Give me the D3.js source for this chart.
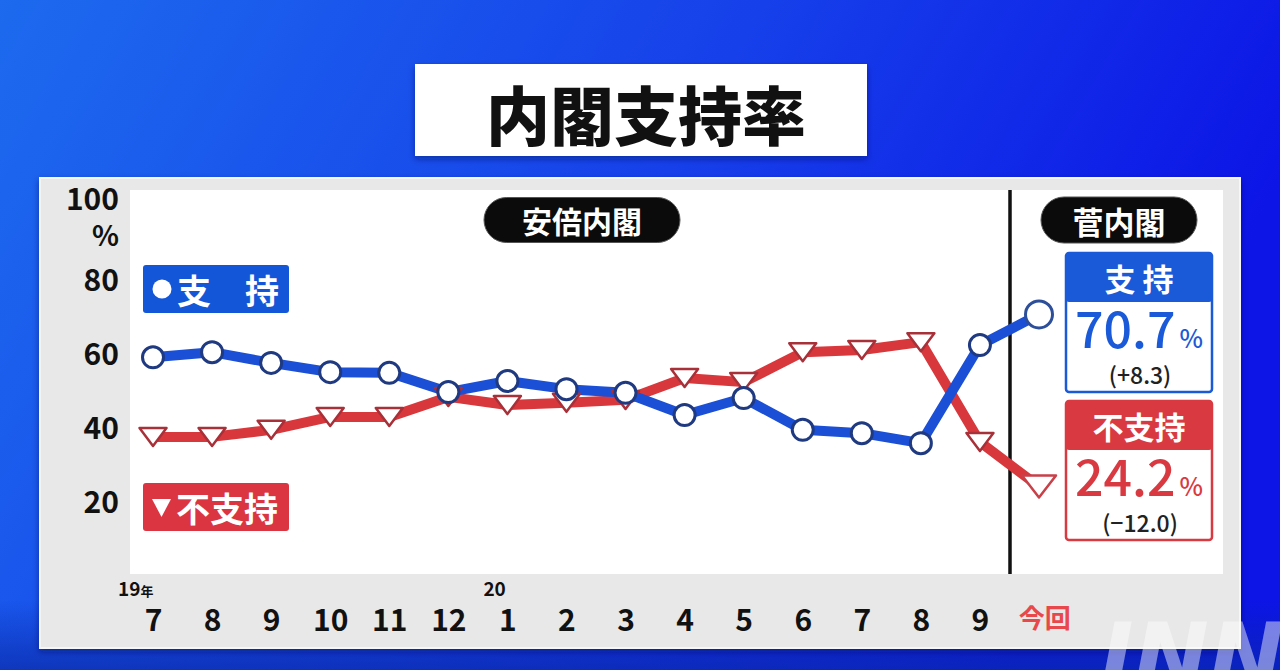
<!DOCTYPE html>
<html><head><meta charset="utf-8">
<script src="https://cdn.jsdelivr.net/npm/d3@7"></script>
<style>body{margin:0;overflow:hidden;background:#1540e0;} svg{display:block;}</style>
</head><body>
<svg id="c" width="1280" height="670"></svg>
<script>
// ---- data ----
const months = ["7","8","9","10","11","12","1","2","3","4","5","6","7","8","9","今回"];
const support = [59.1,60.5,57.6,55.1,54.9,49.7,52.7,50.5,49.5,43.5,48.1,39.5,38.6,35.9,62.4,70.7];
const nonSupport = [37.6,37.6,39.5,43.0,43.0,48.4,46.2,46.8,47.6,53.5,52.4,60.5,61.1,63.2,36.2,24.2];
const yTicks = [20,40,60,80,100];
const yearMarks = [{i:0, year:"19", suffix:"年"}, {i:6, year:"20", suffix:""}];
const cabinets = ["安倍内閣","菅内閣"];
const latest = {support:"70.7", supportDiff:"(+8.3)", non:"24.2", nonDiff:"(−12.0)"};

const FONT = "'Noto Sans CJK JP','Noto Sans',sans-serif";
const BLUE = "#1a4fd6", NAVY = "#1f3a80", RED = "#d8373c", DRED = "#a83038";

const svg = d3.select("#c").style("font-family", FONT);
const defs = svg.append("defs");
const g1 = defs.append("linearGradient").attr("id","bg").attr("x1","0").attr("x2","1").attr("y1","0").attr("y2","0.3");
g1.append("stop").attr("offset","0").attr("stop-color","#1d6aee");
g1.append("stop").attr("offset","0.55").attr("stop-color","#1640ea");
g1.append("stop").attr("offset","1").attr("stop-color","#0c14e6");
svg.append("rect").attr("width",1280).attr("height",670).attr("fill","url(#bg)");
const g2 = defs.append("linearGradient").attr("id","bot").attr("x1","0").attr("x2","0").attr("y1","0").attr("y2","1");
g2.append("stop").attr("offset","0").attr("stop-color","#0a2aa8").attr("stop-opacity",0);
g2.append("stop").attr("offset","1").attr("stop-color","#0a2aa8").attr("stop-opacity",0.7);
svg.append("rect").attr("y",600).attr("width",1280).attr("height",70).attr("fill","url(#bot)");

// title
const shadow = defs.append("filter").attr("id","sh").attr("x","-10%").attr("y","-10%").attr("width","120%").attr("height","140%");
shadow.append("feDropShadow").attr("dx",0).attr("dy",3).attr("stdDeviation",3).attr("flood-color","#001060").attr("flood-opacity",0.5);
svg.append("rect").attr("x",415).attr("y",64).attr("width",452).attr("height",92).attr("fill","#fff").attr("filter","url(#sh)");
svg.append("text").attr("x",646).attr("y",112).attr("text-anchor","middle").attr("dominant-baseline","central")
  .attr("font-size",64).attr("font-weight",900).attr("fill","#111").text("内閣支持率");

// panel
svg.append("rect").attr("x",40).attr("y",178).attr("width",1200).attr("height",470).attr("fill","#e8e8e8")
  .attr("stroke","#f6f6f6").attr("stroke-width",2).attr("filter","url(#sh)");
svg.append("rect").attr("x",130).attr("y",190).attr("width",1093).attr("height",384).attr("fill","#fff");

// watermark (partly hidden at the bottom edge, as in the reference)
svg.append("text").attr("x",1100).attr("y",688).attr("font-size",90).attr("font-weight",900)
  .attr("font-style","italic").attr("fill","#ffffff").attr("opacity",0.45)
  .attr("font-family","'DejaVu Sans',sans-serif").text("JNN");

// scales
const x = d3.scalePoint().domain(d3.range(months.length)).range([153,1039]);
const y = d3.scaleLinear().domain([0,100]).range([576,206]);

// y tick labels
const yAxis = d3.axisLeft(y).tickValues(yTicks).tickSize(0).tickFormat(d3.format("d"));
const ya = svg.append("g").attr("transform","translate(119,0)").call(yAxis);
ya.select(".domain").remove();
ya.selectAll("text").attr("font-size",30).attr("font-weight",700).attr("fill","#111")
  .attr("font-family",FONT).attr("dx",0).attr("dy","0.36em").attr("x",0);
ya.selectAll(".tick").filter(d=>d===100).select("text").attr("dy","0.1em");
svg.append("text").attr("x",119).attr("y",y(100)+40).attr("text-anchor","end").attr("font-size",28)
  .attr("font-weight",700).attr("fill","#111").text("%");

// x tick labels
const xAxis = d3.axisBottom(x).tickSize(0).tickFormat(i=>months[i]);
const xa = svg.append("g").attr("transform","translate(0,607)").call(xAxis);
xa.select(".domain").remove();
xa.selectAll("text").attr("font-size",30).attr("font-weight",700).attr("font-family",FONT)
  .attr("fill",(d,i)=> months[i]==="今回" ? "#e8484c" : "#111").attr("dy","0.7em");
xa.selectAll(".tick").filter(i=>months[i]==="今回").select("text").attr("font-size",26).attr("dx","0.2em");

yearMarks.forEach(m=>{
  const t = svg.append("text").attr("x",x(m.i)+ (m.suffix? -35 : -24)).attr("y",596).attr("font-size",19)
    .attr("font-weight",700).attr("fill","#111");
  t.append("tspan").text(m.year);
  if (m.suffix) t.append("tspan").attr("font-size",13).text(m.suffix);
});

// separator
svg.append("line").attr("x1",1010).attr("x2",1010).attr("y1",190).attr("y2",574).attr("stroke","#111").attr("stroke-width",3.5);

// cabinet pills
function pill(cx, cy, w, h, label, fs){
  svg.append("rect").attr("x",cx-w/2).attr("y",cy-h/2).attr("width",w).attr("height",h).attr("rx",h/2)
    .attr("fill","#0b0b0b").attr("stroke","#555").attr("stroke-width",1);
  svg.append("text").attr("x",cx).attr("y",cy).attr("text-anchor","middle").attr("dominant-baseline","central")
    .attr("font-size",fs).attr("font-weight",700).attr("fill","#fff").text(label);
}
pill(582, 220, 196, 45, cabinets[0], 30);
pill(1119, 220, 156, 46, cabinets[1], 31);

// lines
const line = d3.line().x((d,i)=>x(i)).y(d=>y(d));
svg.append("path").datum(nonSupport).attr("d",line).attr("fill","none").attr("stroke",RED)
  .attr("stroke-width",10).attr("stroke-linejoin","round");
svg.append("path").datum(support).attr("d",line).attr("fill","none").attr("stroke",BLUE)
  .attr("stroke-width",10).attr("stroke-linejoin","round");

// triangle markers
const last = months.length-1;
svg.append("g").selectAll("path").data(nonSupport).join("path")
  .attr("d",(d,i)=>{ const w = i===last?17:13.5, h = i===last?22:18;
     return `M${-w},${-h/2}L${w},${-h/2}L0,${h/2}Z`; })
  .attr("transform",(d,i)=>`translate(${x(i)},${y(d)})`)
  .attr("fill","#fff").attr("stroke",(d,i)=> i===last? "#c84048" : DRED).attr("stroke-width",2.5).attr("stroke-linejoin","round");
// circle markers
svg.append("g").selectAll("circle").data(support).join("circle")
  .attr("cx",(d,i)=>x(i)).attr("cy",d=>y(d)).attr("r",(d,i)=> i===last?13.5:10.5)
  .attr("fill","#fff").attr("stroke",(d,i)=> i===last? "#2d4f9a" : NAVY).attr("stroke-width",3);

// legends
svg.append("rect").attr("x",143).attr("y",265).attr("width",146).attr("height",48).attr("rx",3).attr("fill","#1456d8");
svg.append("circle").attr("cx",162).attr("cy",289).attr("r",9.5).attr("fill","#fff");
svg.append("text").attr("x",177).attr("y",289).attr("dominant-baseline","central").attr("font-size",34)
  .attr("font-weight",700).attr("fill","#fff").text("支　持");
svg.append("rect").attr("x",143).attr("y",483).attr("width",146).attr("height",48).attr("rx",3).attr("fill","#da3540");
svg.append("path").attr("d","M152,499L171,499L161.5,517Z").attr("fill","#fff");
svg.append("text").attr("x",176).attr("y",507).attr("dominant-baseline","central").attr("font-size",34)
  .attr("font-weight",700).attr("fill","#fff").text("不支持");

// right result boxes
function resultBox(top, col, header, val, diff, bodyH){
  svg.append("rect").attr("x",1066).attr("y",top).attr("width",146).attr("height",bodyH).attr("rx",3)
    .attr("fill","#fff").attr("stroke",col).attr("stroke-width",2.5);
  svg.append("rect").attr("x",1066).attr("y",top).attr("width",146).attr("height",49).attr("rx",3).attr("fill",col);
  svg.append("text").attr("x",1139).attr("y",top+24).attr("text-anchor","middle").attr("dominant-baseline","central")
    .attr("font-size",31).attr("font-weight",700).attr("fill","#fff").text(header);
  const t = svg.append("text").attr("x",1139).attr("y",top+95).attr("text-anchor","middle")
    .attr("font-weight",500).attr("fill",col);
  t.append("tspan").attr("font-size",50).text(val);
  t.append("tspan").attr("font-size",25).attr("dx",4).text("%");
  svg.append("text").attr("x",1140).attr("y",top+121).attr("text-anchor","middle").attr("dominant-baseline","central")
    .attr("font-size",23).attr("font-weight",500).attr("fill","#222").text(diff);
}
resultBox(253, "#1a5ad8", "支 持", latest.support, latest.supportDiff, 139);
resultBox(401, "#d93a42", "不支持", latest.non, latest.nonDiff, 139);
</script>
</body></html>
